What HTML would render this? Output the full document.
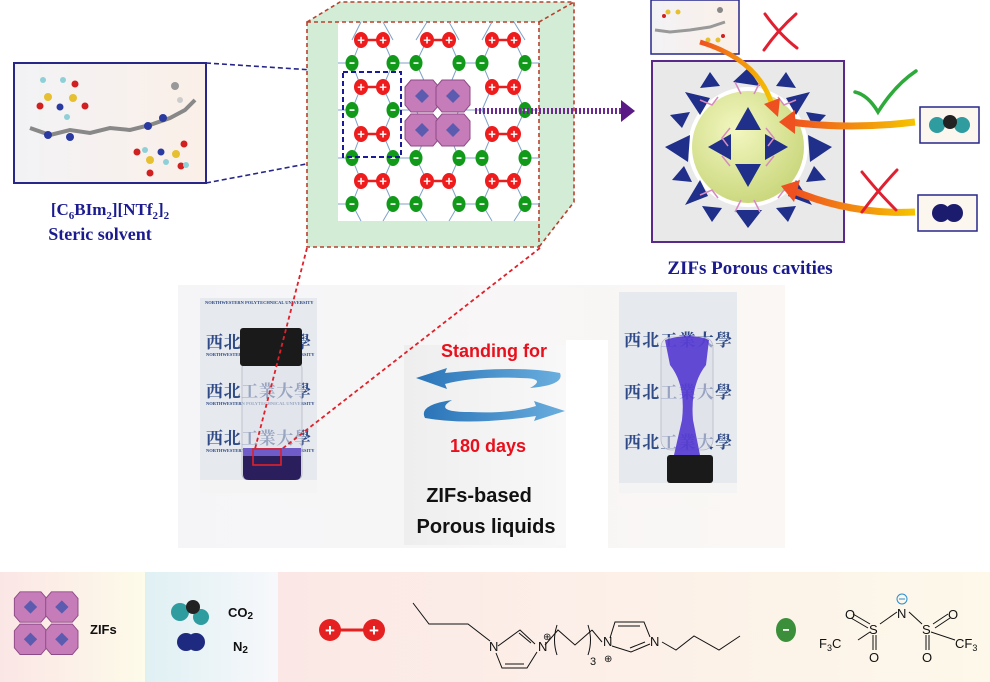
<!DOCTYPE html>
<html><head><meta charset="utf-8"><style>
html,body{margin:0;padding:0;background:#fff;}
svg{display:block;}
.sf{font-family:"Liberation Serif",serif;font-weight:bold;fill:#1b1b8f;}
.ss{font-family:"Liberation Sans",sans-serif;}
.cn{font-family:"Liberation Serif","Noto Serif CJK SC",serif;font-weight:bold;fill:#2f4a86;font-size:17px;}
.tiny{font-family:"Liberation Serif",serif;font-size:4.5px;fill:#2f4a86;font-weight:bold;}
</style></head><body>
<svg width="990" height="682" viewBox="0 0 990 682" xmlns="http://www.w3.org/2000/svg">
<defs>
<clipPath id="cl"><rect x="200" y="298" width="117" height="195"/></clipPath>
<clipPath id="cr"><rect x="619" y="292" width="118" height="201"/></clipPath>
<linearGradient id="bgmid" x1="0" x2="1"><stop offset="0" stop-color="#f5f5f8"/><stop offset="1" stop-color="#faf7f4"/></linearGradient>
<linearGradient id="b1" x1="0" x2="1"><stop offset="0" stop-color="#fbe6e6"/><stop offset="1" stop-color="#fdfbe9"/></linearGradient>
<linearGradient id="b2" x1="0" x2="1"><stop offset="0" stop-color="#dff0f3"/><stop offset="1" stop-color="#f7f8fb"/></linearGradient>
<linearGradient id="b3" x1="0" x2="1"><stop offset="0" stop-color="#fbe8e6"/><stop offset="1" stop-color="#fdf8ea"/></linearGradient>
<linearGradient id="box" x1="0" x2="1"><stop offset="0" stop-color="#f2f2f5"/><stop offset="1" stop-color="#fbf0e8"/></linearGradient>
<linearGradient id="gp" x1="0" x2="1"><stop offset="0" stop-color="#eeeeee"/><stop offset="1" stop-color="#f8f8f8"/></linearGradient>
<radialGradient id="sph" cx="0.4" cy="0.35" r="0.7"><stop offset="0" stop-color="#f2f7c0"/><stop offset="1" stop-color="#c9d67a"/></radialGradient>
<linearGradient id="arr" x1="1" x2="0"><stop offset="0" stop-color="#f5c400"/><stop offset="1" stop-color="#ef5020"/></linearGradient>
<linearGradient id="barr" x1="0" x2="1"><stop offset="0" stop-color="#2a74b8"/><stop offset="1" stop-color="#6aaede"/></linearGradient>
<g id="oct"><polygon points="-11,-16 11,-16 17,-9 17,9 11,16 -11,16 -17,9 -17,-9" fill="#c57cb9" stroke="#8e4a86" stroke-width="1"/><polygon points="0,-7 7,0 0,7 -7,0" fill="#5b5bb0"/></g>
<g id="cat"><line x1="-11" y1="0" x2="11" y2="0" stroke="#e42020" stroke-width="2.5"/><ellipse cx="-11" cy="0" rx="7" ry="8" fill="#ee1c1c"/><ellipse cx="11" cy="0" rx="7" ry="8" fill="#ee1c1c"/><text x="-11" y="4.5" font-size="13" font-weight="bold" fill="#fff" text-anchor="middle" class="ss">+</text><text x="11" y="4.5" font-size="13" font-weight="bold" fill="#fff" text-anchor="middle" class="ss">+</text></g>
<g id="an"><ellipse cx="0" cy="0" rx="6.5" ry="8" fill="#119a1a"/><rect x="-2.5" y="-0.7" width="5" height="1.6" fill="#fff"/></g>
</defs>

<!-- left molecule box -->
<rect x="14" y="63" width="192" height="120" fill="url(#box)" stroke="#27278a" stroke-width="2"/>
<g>
<polyline points="30,128 50,135 70,130 90,133 110,128 130,130 150,125 170,118 185,110 195,100" fill="none" stroke="#888" stroke-width="4"/>
<circle cx="48" cy="135" r="4" fill="#2a3aa0"/><circle cx="70" cy="137" r="4" fill="#2a3aa0"/><circle cx="148" cy="126" r="4" fill="#2a3aa0"/><circle cx="163" cy="118" r="4" fill="#2a3aa0"/>
<circle cx="60" cy="107" r="3.5" fill="#2a3aa0"/><circle cx="48" cy="97" r="4" fill="#e6c030"/><circle cx="73" cy="98" r="4" fill="#e6c030"/><circle cx="40" cy="106" r="3.5" fill="#d02020"/><circle cx="85" cy="106" r="3.5" fill="#d02020"/><circle cx="75" cy="84" r="3.5" fill="#d02020"/><circle cx="43" cy="80" r="3" fill="#8fd0d8"/><circle cx="63" cy="80" r="3" fill="#8fd0d8"/><circle cx="67" cy="117" r="3" fill="#8fd0d8"/>
<circle cx="161" cy="152" r="3.5" fill="#2a3aa0"/><circle cx="150" cy="160" r="4" fill="#e6c030"/><circle cx="176" cy="154" r="4" fill="#e6c030"/><circle cx="137" cy="152" r="3.5" fill="#d02020"/><circle cx="150" cy="173" r="3.5" fill="#d02020"/><circle cx="184" cy="144" r="3.5" fill="#d02020"/><circle cx="181" cy="166" r="3.5" fill="#d02020"/><circle cx="166" cy="162" r="3" fill="#8fd0d8"/><circle cx="186" cy="165" r="3" fill="#8fd0d8"/><circle cx="145" cy="150" r="3" fill="#8fd0d8"/>
<circle cx="175" cy="86" r="4" fill="#999"/><circle cx="180" cy="100" r="3" fill="#ccc"/>
</g>
<text x="110" y="215" text-anchor="middle" class="sf" font-size="17">[C<tspan font-size="11" dy="4">6</tspan><tspan dy="-4">BIm</tspan><tspan font-size="11" dy="4">2</tspan><tspan dy="-4">][NTf</tspan><tspan font-size="11" dy="4">2</tspan><tspan dy="-4">]</tspan><tspan font-size="11" dy="4">2</tspan></text>
<text x="100" y="240" text-anchor="middle" class="sf" font-size="18">Steric solvent</text>

<line x1="206" y1="63" x2="343" y2="72" stroke="#27278a" stroke-width="1.6" stroke-dasharray="5,3"/>
<line x1="206" y1="183" x2="343" y2="157" stroke="#27278a" stroke-width="1.6" stroke-dasharray="5,3"/>

<!-- cube -->
<polygon points="307,22 340,2 574,2 574,202 539,247 307,247" fill="#d3ecd5"/>
<rect x="338" y="22" width="201" height="199" fill="#fff"/>
<g stroke="#b8412e" stroke-width="1.6" stroke-dasharray="4,3" fill="none">
<rect x="307" y="22" width="232" height="225"/>
<polyline points="307,22 340,2 574,2 574,202 539,247"/>
<line x1="539" y1="22" x2="574" y2="2"/>
</g>
<g stroke="#7fa2c8" stroke-width="1" fill="none">
<path d="M361,22 L352,40 M383,22 L393,40 M427,22 L416,40 M449,22 L459,40 M492,22 L482,40 M514,22 L525,40"/>
<path d="M361,40 L352,63 L361,87 L352,110 L361,134 L352,158 L361,181 L352,204 L361,221"/>
<path d="M383,40 L393,63 L383,87 L393,110 L383,134 L393,158 L383,181 L393,204 L383,221"/>
<path d="M427,40 L416,63 L427,87 L416,110 L427,134 L416,158 L427,181 L416,204 L427,221"/>
<path d="M449,40 L459,63 L449,87 L459,110 L449,134 L459,158 L449,181 L459,204 L449,221"/>
<path d="M492,40 L482,63 L492,87 L482,110 L492,134 L482,158 L492,181 L482,204 L492,221"/>
<path d="M514,40 L525,63 L514,87 L525,110 L514,134 L525,158 L514,181 L525,204 L514,221"/>
<path d="M338,63 H352 M393,63 H416 M459,63 H482 M525,63 H539 M338,110 H352 M393,110 H416 M459,110 H482 M525,110 H539 M338,158 H352 M393,158 H416 M459,158 H482 M525,158 H539 M338,204 H352 M393,204 H416 M459,204 H482 M525,204 H539"/>
</g>
<use href="#cat" x="372" y="40"/><use href="#cat" x="438" y="40"/><use href="#cat" x="503" y="40"/>
<use href="#cat" x="372" y="87"/><use href="#cat" x="503" y="87"/>
<use href="#cat" x="372" y="134"/><use href="#cat" x="503" y="134"/>
<use href="#cat" x="372" y="181"/><use href="#cat" x="438" y="181"/><use href="#cat" x="503" y="181"/>
<g>
<use href="#an" x="352" y="63"/><use href="#an" x="393" y="63"/><use href="#an" x="416" y="63"/><use href="#an" x="459" y="63"/><use href="#an" x="482" y="63"/><use href="#an" x="525" y="63"/>
<use href="#an" x="352" y="110"/><use href="#an" x="393" y="110"/><use href="#an" x="525" y="110"/>
<use href="#an" x="352" y="158"/><use href="#an" x="393" y="158"/><use href="#an" x="416" y="158"/><use href="#an" x="459" y="158"/><use href="#an" x="482" y="158"/><use href="#an" x="525" y="158"/>
<use href="#an" x="352" y="204"/><use href="#an" x="393" y="204"/><use href="#an" x="416" y="204"/><use href="#an" x="459" y="204"/><use href="#an" x="482" y="204"/><use href="#an" x="525" y="204"/>
</g>
<use href="#oct" x="422" y="96"/><use href="#oct" x="453" y="96"/><use href="#oct" x="422" y="130"/><use href="#oct" x="453" y="130"/>
<rect x="343" y="72" width="58" height="85" fill="none" stroke="#1a1a9a" stroke-width="2" stroke-dasharray="5,3"/>
<line x1="475" y1="111" x2="622" y2="111" stroke="#6a2a90" stroke-width="6" stroke-dasharray="2,2"/>
<polygon points="621,100 635,111 621,122" fill="#5a1a85"/>

<!-- right region -->
<rect x="651" y="0" width="88" height="54" fill="url(#box)" stroke="#27278a" stroke-width="1.5"/>
<g><polyline points="655,30 670,32 690,30 710,27 725,22" fill="none" stroke="#999" stroke-width="3"/><circle cx="668" cy="12" r="2.5" fill="#e6c030"/><circle cx="678" cy="12" r="2.5" fill="#e6c030"/><circle cx="664" cy="16" r="2" fill="#d02020"/><circle cx="708" cy="40" r="2.5" fill="#e6c030"/><circle cx="718" cy="40" r="2.5" fill="#e6c030"/><circle cx="723" cy="36" r="2" fill="#d02020"/><circle cx="720" cy="10" r="3" fill="#888"/></g>
<rect x="652" y="61" width="192" height="181" fill="#e9e9ea" stroke="#5a2a8a" stroke-width="2"/>
<circle cx="748" cy="147" r="60" fill="#fff"/>
<circle cx="748" cy="147" r="56" fill="url(#sph)"/>
<g fill="#1f2f8a">
<polygon points="748,107 735,130 761,130"/><polygon points="748,187 735,164 761,164"/><polygon points="708,147 731,134 731,160"/><polygon points="788,147 765,134 765,160"/>
<polygon points="748,68 733,82 760,86"/><polygon points="748,228 735,210 762,210"/><polygon points="665,147 690,135 688,162"/><polygon points="832,147 808,135 810,162"/>
<polygon points="685,92 710,98 700,115"/><polygon points="810,92 786,98 796,115"/><polygon points="685,205 708,196 700,180"/><polygon points="812,205 788,196 796,180"/>
<polygon points="710,72 720,86 700,88"/><polygon points="786,72 776,86 796,88"/><polygon points="712,222 722,208 702,206"/><polygon points="788,222 776,208 796,206"/>
<polygon points="670,115 690,112 682,128"/><polygon points="826,115 806,112 814,128"/><polygon points="672,180 692,182 684,166"/><polygon points="826,180 806,182 814,166"/>
</g>
<g stroke="#d78ac0" stroke-width="1.5" fill="none">
<path d="M730,128 l-8,10 l6,8 M766,128 l8,10 l-6,8 M730,166 l-8,-10 M766,166 l8,-10 M700,100 l12,5 l6,-8 M796,100 l-12,5 l-6,-8 M700,195 l12,-5 l6,8 M796,195 l-12,-5 l-6,8 M735,82 l6,12 M760,82 l-6,12 M735,212 l6,-12 M760,212 l-6,-12"/>
</g>
<path d="M700,42 Q760,60 773,108" fill="none" stroke="url(#arr)" stroke-width="5"/>
<polygon points="764,104 778,117 780,98" fill="#ef5020"/>
<path d="M915,122 Q850,130 790,122" fill="none" stroke="url(#arr)" stroke-width="7"/>
<polygon points="795,110 779,122 795,134" fill="#ef5020"/>
<path d="M915,212 Q850,215 792,190" fill="none" stroke="url(#arr)" stroke-width="7"/>
<polygon points="800,180 781,186 794,202" fill="#ef5020"/>
<g stroke="#e02030" stroke-width="3" fill="none" stroke-linecap="round"><path d="M765,14 Q780,35 797,48 M796,14 Q778,30 764,50"/><path d="M862,172 Q878,192 896,210 M897,170 Q880,188 862,212"/></g>
<path d="M855,92 Q868,95 878,112 Q895,85 916,71" fill="none" stroke="#2daa3a" stroke-width="3.5" stroke-linecap="round"/>
<rect x="920" y="107" width="59" height="36" fill="#fbf6ee" stroke="#27278a" stroke-width="1.5"/>
<circle cx="937" cy="125" r="8" fill="#2f9ca0"/><circle cx="962" cy="125" r="8" fill="#2f9ca0"/><circle cx="950" cy="122" r="7" fill="#222"/>
<rect x="918" y="195" width="59" height="36" fill="#fbf6ee" stroke="#27278a" stroke-width="1.5"/>
<circle cx="941" cy="213" r="9" fill="#1c1c6e"/><circle cx="954" cy="213" r="9" fill="#1c1c6e"/>
<text x="750" y="274" text-anchor="middle" class="sf" font-size="19">ZIFs Porous cavities</text>

<!-- middle -->
<rect x="178" y="285" width="607" height="263" fill="url(#bgmid)"/>
<rect x="404" y="345" width="162" height="200" fill="url(#gp)"/>
<rect x="566" y="340" width="42" height="208" fill="#fff"/>
<g clip-path="url(#cl)">
<rect x="200" y="298" width="117" height="195" fill="#e6e9ee"/>
<text x="205" y="304" class="tiny">NORTHWESTERN POLYTECHNICAL UNIVERSITY</text>
<text x="206" y="348" class="cn" textLength="105">西北工業大學</text>
<text x="206" y="397" class="cn" textLength="105">西北工業大學</text>
<text x="206" y="444" class="cn" textLength="105">西北工業大學</text>
<text x="206" y="356" class="tiny">NORTHWESTERN POLYTECHNICAL UNIVERSITY</text>
<text x="206" y="405" class="tiny">NORTHWESTERN POLYTECHNICAL UNIVERSITY</text>
<text x="206" y="452" class="tiny">NORTHWESTERN POLYTECHNICAL UNIVERSITY</text>
<rect x="242" y="362" width="60" height="118" rx="6" fill="#dfe3ea" fill-opacity="0.6" stroke="#aab" stroke-width="0.6"/>
<rect x="240" y="328" width="62" height="38" rx="3" fill="#1a1a1a"/>
<path d="M243,452 H301 V474 Q301,480 295,480 H249 Q243,480 243,474 Z" fill="#2a1f5c"/>
<rect x="243" y="448" width="58" height="8" fill="#6f5cc8"/>
<rect x="200" y="480" width="117" height="13" fill="#f4f4f4"/>
</g>
<g clip-path="url(#cr)">
<rect x="619" y="292" width="118" height="201" fill="#e6e9ee"/>
<text x="624" y="346" class="cn" textLength="108">西北工業大學</text>
<text x="624" y="398" class="cn" textLength="108">西北工業大學</text>
<text x="624" y="448" class="cn" textLength="108">西北工業大學</text>
<rect x="661" y="337" width="52" height="113" rx="10" fill="#dde0ea" fill-opacity="0.6" stroke="#aab" stroke-width="0.6"/>
<path d="M665,340 Q690,332 709,340 L706,365 Q690,385 693,420 L700,455 L674,455 L682,420 Q686,385 670,365 Z" fill="#4a2ed0" fill-opacity="0.85"/>
<rect x="667" y="455" width="46" height="28" rx="3" fill="#1a1a1a"/>
<rect x="619" y="483" width="118" height="10" fill="#f4f4f4"/>
</g>
<g stroke="#e0202a" stroke-width="1.8" stroke-dasharray="4,3" fill="none">
<line x1="307" y1="248" x2="255" y2="449"/><line x1="540" y1="248" x2="282" y2="449"/>
</g>
<rect x="253" y="449" width="28" height="16" fill="none" stroke="#e0202a" stroke-width="1.6"/>
<path d="M416,378 L447,368 L445,373 Q520,365 560,373 Q565,385 530,388 Q548,378 520,378 Q475,376 445,384 L447,389 Z" fill="url(#barr)"/>
<path d="M565,411 L534,421 L536,416 Q470,426 425,418 Q418,405 452,400 Q432,412 470,412 Q510,414 536,406 L534,401 Z" fill="url(#barr)"/>
<text x="494" y="357" text-anchor="middle" class="ss" font-size="18" font-weight="bold" fill="#e8101c">Standing for</text>
<text x="488" y="452" text-anchor="middle" class="ss" font-size="18" font-weight="bold" fill="#e8101c">180 days</text>
<text x="479" y="502" text-anchor="middle" class="ss" font-size="20" font-weight="bold" fill="#111">ZIFs-based</text>
<text x="486" y="533" text-anchor="middle" class="ss" font-size="20" font-weight="bold" fill="#111">Porous liquids</text>

<!-- bottom legend -->
<rect x="0" y="572" width="145" height="110" fill="url(#b1)"/>
<rect x="145" y="572" width="133" height="110" fill="url(#b2)"/>
<rect x="278" y="572" width="712" height="110" fill="url(#b3)"/>
<g transform="translate(-359,512) scale(0.95)"><use href="#oct" x="410" y="100"/><use href="#oct" x="443" y="100"/><use href="#oct" x="410" y="134"/><use href="#oct" x="443" y="134"/></g>
<text x="90" y="634" class="ss" font-size="13" font-weight="bold" fill="#111">ZIFs</text>
<circle cx="180" cy="612" r="9" fill="#2f9ca0"/><circle cx="201" cy="617" r="8" fill="#2f9ca0"/><circle cx="193" cy="607" r="7" fill="#222"/>
<circle cx="186" cy="642" r="9" fill="#1e2a80"/><circle cx="196" cy="642" r="9" fill="#1e2a80"/>
<text x="228" y="617" class="ss" font-size="13" font-weight="bold" fill="#111">CO<tspan font-size="10" dy="2">2</tspan></text>
<text x="233" y="651" class="ss" font-size="13" font-weight="bold" fill="#111">N<tspan font-size="10" dy="2">2</tspan></text>
<g transform="translate(352,630)"><line x1="-22" y1="0" x2="22" y2="0" stroke="#e42020" stroke-width="3"/><circle cx="-22" cy="0" r="11" fill="#e42020"/><circle cx="22" cy="0" r="11" fill="#e42020"/><text x="-22" y="6" font-size="17" font-weight="bold" fill="#fff" text-anchor="middle" class="ss">+</text><text x="22" y="6" font-size="17" font-weight="bold" fill="#fff" text-anchor="middle" class="ss">+</text></g>
<g stroke="#111" stroke-width="1" fill="none">
<polyline points="413,603 429,624 468,624 490,641"/>
<polyline points="498,646 520,630 535,644"/>
<polyline points="496,653 502,668 527,668 537,652"/>
<line x1="505" y1="664" x2="524" y2="664"/><line x1="519" y1="633" x2="531" y2="643"/>
<polyline points="545,645 558,630 575,645 592,630"/>
<polyline points="592,630 602,642"/>
<polyline points="612,646 631,652 650,644"/>
<polyline points="610,638 615,622 644,622 650,637"/>
<line x1="618" y1="626" x2="640" y2="626"/><line x1="630" y1="648" x2="645" y2="642"/>
<polyline points="662,642 676,650 694,636 719,650 740,636"/>
<path d="M557,625 Q552,640 557,655 M588,625 Q593,640 588,655"/>
</g>
<g class="ss" font-size="13" fill="#111">
<text x="489" y="651">N</text><text x="538" y="651">N</text><text x="543" y="640" font-size="10">⊕</text>
<text x="590" y="665" font-size="11">3</text>
<text x="603" y="646">N</text><text x="604" y="662" font-size="10">⊕</text><text x="650" y="646">N</text>
</g>
<ellipse cx="786" cy="630" rx="10" ry="12" fill="#3b8f3a"/><rect x="783" y="629" width="6" height="1.8" fill="#fff"/>
<g stroke="#111" stroke-width="1" fill="none">
<line x1="851" y1="618" x2="868" y2="628"/><line x1="853" y1="614" x2="870" y2="624"/>
<line x1="880" y1="624" x2="897" y2="612"/><line x1="909" y1="612" x2="922" y2="624"/>
<line x1="873" y1="635" x2="873" y2="650"/><line x1="876" y1="635" x2="876" y2="650"/>
<line x1="926" y1="635" x2="926" y2="650"/><line x1="929" y1="635" x2="929" y2="650"/>
<line x1="933" y1="624" x2="948" y2="614"/><line x1="935" y1="628" x2="950" y2="618"/>
<line x1="858" y1="640" x2="870" y2="632"/><line x1="931" y1="632" x2="955" y2="640"/>
</g>
<g class="ss" font-size="13" fill="#111">
<text x="845" y="619">O</text><text x="869" y="634">S</text><text x="869" y="662">O</text>
<text x="819" y="648">F<tspan font-size="9" dy="3">3</tspan><tspan dy="-3">C</tspan></text>
<text x="897" y="618">N</text><text x="922" y="634">S</text><text x="948" y="619">O</text><text x="922" y="662">O</text>
<text x="955" y="648">CF<tspan font-size="9" dy="3">3</tspan></text>
</g>
<circle cx="902" cy="599" r="5" fill="none" stroke="#2a8fd0" stroke-width="1"/><line x1="899" y1="599" x2="905" y2="599" stroke="#2a8fd0" stroke-width="1"/>
</svg>
</body></html>
